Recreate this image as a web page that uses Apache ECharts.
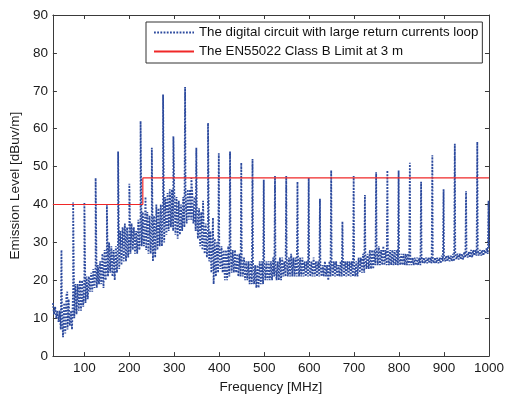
<!DOCTYPE html>
<html>
<head>
<meta charset="utf-8">
<script src="https://cdn.jsdelivr.net/npm/echarts@6/dist/echarts.min.js"></script>
<style>
  html, body { margin: 0; padding: 0; background: #fff; }
  #chart { width: 507px; height: 399px; }
</style>
</head>
<body>
<div id="chart"></div>
<script>
// Noise floor of the measured emission, one sample every 5 MHz from 30 MHz.
// floorUpper holds the top of the ripple band, floorLower its bottom,
// taken half a step later so the trace swings between them.
const floorStart = 30;
const floorStep = 5;
const floorUpper = [
  14, 13, 12, 12, 13,   14, 16, 15, 12, 18,   19, 19, 20, 20, 21,
  21, 21, 22, 23, 24,   24, 25, 27, 28, 29,   30, 29, 28, 29, 31,
  33, 34, 35, 34, 33,   35, 34, 33, 36, 37,   38, 37, 38, 37, 36,
  37, 38, 39, 40, 41,   42, 43, 44, 44, 43,   42, 41, 40, 42, 43,
  44, 44, 43, 42, 40,   39, 38, 36, 35, 34,   33, 32, 31, 30, 29,
  29, 28, 28, 29, 29,   28, 28, 27, 27, 26,   26, 25, 25, 25, 25,
  24, 24, 25, 25, 25,   25, 25, 25, 26, 25,   25, 26, 26, 25, 26,
  26, 27, 26, 26, 27,   26, 26, 25, 25, 25,   25, 26, 25, 25, 24,
  24, 25, 24, 25, 25,   25, 25, 24, 25, 26,   25, 25, 25, 25, 25,
  25, 26, 26, 27, 27,   27, 28, 28, 28, 29,   29, 28, 29, 28, 28,
  28, 28, 28, 28, 27,   27, 27, 27, 27, 26,   26, 26, 26, 26, 26,
  26, 26, 26, 26, 26,   26, 26, 26, 26.5, 26.5,   26.5, 26.5, 26.5, 27, 27,
  27, 27, 27, 27.5, 27.5,   27.5, 28, 28, 28, 28,   28, 28, 28, 28.5, 28.5
];
const floorLower = [
  11, 10, 9, 7, 5,      6, 7, 8, 7, 10,       11, 12, 12, 13, 14,
  15, 17, 17, 18, 18,   19, 19, 18, 20, 21,   22, 21, 20, 22, 23,
  24, 25, 25, 26, 27,   28, 27, 27, 28, 29,   29, 28, 27, 27, 25,
  26, 28, 29, 29, 30,   32, 33, 34, 33, 32,   31, 32, 33, 34, 35,
  36, 36, 35, 33, 31,   29, 28, 27, 26, 25,   22, 19, 21, 22, 23,
  22, 20, 20, 21, 22,   22, 22, 21, 21, 21,   20, 20, 19, 19, 19,
  18, 18, 19, 19, 20,   20, 20, 20, 21, 20,   20, 20, 21, 21, 21,
  21, 21, 21, 21, 21,   21, 21, 21, 21, 21,   21, 21, 21, 21, 21,
  21, 21, 20, 21, 21,   21, 21, 21, 21, 21,   21, 21, 21, 21, 21,
  21, 22, 22, 22, 23,   23, 23, 23, 24, 24,   24, 24, 24, 24, 24,
  24, 24, 24, 24, 24,   24, 24, 24, 24, 24,   24, 24, 24, 24, 24.5,
  24.5, 24.5, 24.5, 24.5, 24.5,   24.5, 24.5, 24.5, 25, 25,   25, 25, 25, 25, 25.5,
  25.5, 25.5, 25.5, 26, 26,   26, 26, 26.5, 26.5, 26.5,   26.5, 26.5, 27, 27, 27
];

// Narrow emission peaks (clock harmonics): frequency in MHz, level in dBuV/m
const peakFreqs = [
  49, 62, 75, 100, 125, 150, 175, 200, 225, 236,
  250, 260, 275, 298, 324, 338, 349, 364, 375, 386,
  399, 424, 449, 474, 499, 524, 549, 574, 599, 624,
  649, 674, 699, 724, 749, 774, 799, 824, 849, 874,
  899, 924, 949, 974, 999
];
const peakLevels = [
  28, 17, 40.5, 40.5, 47, 40, 54, 45.5, 62, 42,
  55, 40, 69, 58, 71, 47, 55, 41, 61.5, 36.5,
  53.5, 54, 51, 52, 46.5, 47.5, 47.5, 46, 47, 41.5,
  49, 35.5, 47.5, 42.5, 48.5, 49, 49, 51, 46, 53,
  44, 56, 43.5, 56.5, 41
];

// EN55022 Class B radiated limit at 3 m (step at 230 MHz)
const limitFreqs = [30, 230, 230, 1000];
const limitLevels = [40, 40, 47, 47];

const xTicks = [100, 200, 300, 400, 500, 600, 700, 800, 900, 1000];

// Build the measured trace: ripple band plus harmonic peaks, ordered by frequency
const trace = [];
floorUpper.forEach((v, i) => {
  const f = floorStart + i * floorStep;
  trace.push([f, v]);
  if (f + floorStep / 2 <= 1000) trace.push([f + floorStep / 2, floorLower[i]]);
});
peakFreqs.forEach((f, i) => trace.push([f, peakLevels[i]]));
trace.sort((a, b) => a[0] - b[0]);

const limitData = limitFreqs.map((f, i) => [f, limitLevels[i]]);

const font = "'Liberation Sans', Arial, sans-serif";
const fs = 13.5;
const axisColor = '#3a3a3a';
const labelStyle = { color: '#1a1a1a', fontSize: fs, fontFamily: font };
const traceColor = '#2c4a9e';

const chart = echarts.init(document.getElementById('chart'), null, { renderer: 'canvas' });
chart.setOption({
  animation: false,
  backgroundColor: '#ffffff',
  grid: { left: 50, right: 11, top: 15, bottom: 37 },
  legend: {
    orient: 'vertical',
    left: 146,
    top: 22,
    padding: [4, 4, 5, 7],
    itemWidth: 40,
    itemHeight: 14,
    itemGap: 6,
    backgroundColor: '#ffffff',
    borderColor: '#333333',
    borderWidth: 1,
    borderRadius: 0,
    itemStyle: { opacity: 0 },
    textStyle: { color: '#111', fontSize: 13.3, fontFamily: font },
    data: [
      'The digital circuit with large return currents loop',
      'The EN55022 Class B Limit at 3 m'
    ]
  },
  xAxis: [
    {
      type: 'value',
      min: 30,
      max: 1000,
      name: 'Frequency [MHz]',
      nameLocation: 'middle',
      nameGap: 19,
      nameTextStyle: { color: '#1a1a1a', fontSize: fs, fontFamily: font },
      axisLine: { show: true, lineStyle: { color: axisColor, width: 1 } },
      axisTick: { show: true, inside: true, length: 4, customValues: xTicks, lineStyle: { color: axisColor } },
      axisLabel: Object.assign({ margin: 5, customValues: xTicks, formatter: v => String(v) }, labelStyle),
      splitLine: { show: false }
    },
    {
      type: 'value',
      position: 'top',
      min: 30,
      max: 1000,
      axisLine: { show: true, onZero: false, lineStyle: { color: axisColor, width: 1 } },
      axisTick: { show: true, inside: true, length: 4, customValues: xTicks, lineStyle: { color: axisColor } },
      axisLabel: { show: false },
      splitLine: { show: false }
    }
  ],
  yAxis: [
    {
      type: 'value',
      min: 0,
      max: 90,
      interval: 10,
      name: 'Emission Level [dBuv/m]',
      nameLocation: 'middle',
      nameGap: 25,
      nameTextStyle: { color: '#1a1a1a', fontSize: fs, fontFamily: font },
      axisLine: { show: true, lineStyle: { color: axisColor, width: 1 } },
      axisTick: { show: true, inside: true, length: 4, lineStyle: { color: axisColor } },
      axisLabel: Object.assign({ margin: 5 }, labelStyle),
      splitLine: { show: false }
    },
    {
      type: 'value',
      position: 'right',
      min: 0,
      max: 90,
      interval: 10,
      axisLine: { show: true, onZero: false, lineStyle: { color: axisColor, width: 1 } },
      axisTick: { show: true, inside: true, length: 4, lineStyle: { color: axisColor } },
      axisLabel: { show: false },
      splitLine: { show: false }
    }
  ],
  series: [
    {
      name: 'The digital circuit with large return currents loop',
      type: 'line',
      data: trace,
      showSymbol: false,
      symbol: 'none',
      lineStyle: { color: traceColor, width: 1.8, type: [1.8, 1.4] },
      itemStyle: { color: traceColor },
      z: 2
    },
    {
      name: 'The EN55022 Class B Limit at 3 m',
      type: 'line',
      data: limitData,
      showSymbol: false,
      symbol: 'none',
      lineStyle: { color: '#f02828', width: 1.2 },
      itemStyle: { color: '#f02828' },
      z: 3
    }
  ]
});
</script>
</body>
</html>
